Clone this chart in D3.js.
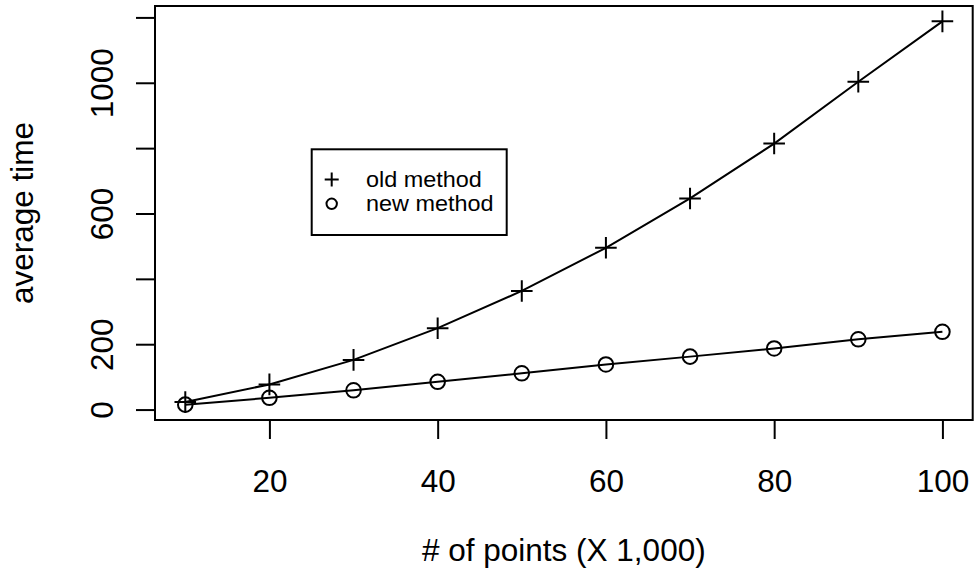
<!DOCTYPE html>
<html>
<head>
<meta charset="utf-8">
<script src="https://cdn.jsdelivr.net/npm/d3@7"></script>
<style>
  html, body { margin: 0; padding: 0; background: #ffffff; }
  svg { display: block; }
  text { font-family: "Liberation Sans", Arial, Helvetica, sans-serif; fill: #000; }
</style>
</head>
<body>
<svg id="chart" width="975" height="579"></svg>
<script>
// Number of points (thousands) and average run time of each method
const sizes = [10, 20, 30, 40, 50, 60, 70, 80, 90, 100];
const oldMethod = [23, 77, 152, 249, 363, 495, 646, 814, 1003, 1188];
const newMethod = [15, 36, 59, 85, 111, 138, 162, 187, 215, 238];

// Axis ticks and the labels that are printed
const xTicks = [20, 40, 60, 80, 100];
const yTicks = [0, 200, 400, 600, 800, 1000, 1200];
const yLabelled = [0, 200, 600, 1000];

const legendLabels = ["old method", "new method"];

const svg = d3.select("#chart");
const plot = { left: 155, right: 972.7, top: 6, bottom: 420 };

// R-style 4% padding around the data range
function padded(vals) {
  const lo = d3.min(vals), hi = d3.max(vals), r = hi - lo;
  return [lo - 0.04 * r, hi + 0.04 * r];
}

const x = d3.scaleLinear().domain(padded(sizes)).range([plot.left, plot.right]);
const y = d3.scaleLinear().domain(padded(oldMethod.concat(newMethod))).range([plot.bottom, plot.top]);

const fontSize = 31.5;
const tickLen = 19;
const lw = 2;

// Box around the plotting region
svg.append("rect")
  .attr("x", plot.left).attr("y", plot.top)
  .attr("width", plot.right - plot.left).attr("height", plot.bottom - plot.top)
  .attr("fill", "none").attr("stroke", "#000").attr("stroke-width", lw);

// Bottom axis
const xAxis = d3.axisBottom(x).tickValues(xTicks).tickSize(tickLen).tickPadding(0).tickFormat(d3.format("d"));
const gx = svg.append("g").attr("transform", `translate(0,${plot.bottom})`).call(xAxis);
gx.select(".domain").attr("d", `M${x(xTicks[0])},0H${x(xTicks[xTicks.length - 1])}`)
  .attr("stroke", "#000").attr("stroke-width", lw);
gx.selectAll(".tick line").attr("stroke", "#000").attr("stroke-width", lw);
gx.selectAll(".tick text")
  .attr("y", 72).attr("dy", null)
  .attr("font-size", fontSize).attr("font-family", "Liberation Sans, Arial, sans-serif")
  .attr("fill", "#000");

// Left axis (labels read upward)
const yAxis = d3.axisLeft(y).tickValues(yTicks).tickSize(tickLen).tickPadding(0)
  .tickFormat(d => yLabelled.includes(d) ? d3.format("d")(d) : "");
const gy = svg.append("g").attr("transform", `translate(${plot.left},0)`).call(yAxis);
gy.select(".domain").attr("d", `M0,${y(yTicks[0])}V${y(yTicks[yTicks.length - 1])}`)
  .attr("stroke", "#000").attr("stroke-width", lw);
gy.selectAll(".tick line").attr("stroke", "#000").attr("stroke-width", lw);
gy.selectAll(".tick text")
  .attr("x", null).attr("dy", null)
  .attr("transform", "translate(-42,0) rotate(-90)")
  .attr("text-anchor", "middle")
  .attr("font-size", fontSize).attr("font-family", "Liberation Sans, Arial, sans-serif")
  .attr("fill", "#000");

// Axis titles
svg.append("text")
  .attr("x", (plot.left + plot.right) / 2).attr("y", 561)
  .attr("text-anchor", "middle").attr("font-size", fontSize)
  .text("# of points (X 1,000)");
svg.append("text")
  .attr("transform", `translate(33,${(plot.top + plot.bottom) / 2}) rotate(-90)`)
  .attr("text-anchor", "middle").attr("font-size", fontSize)
  .text("average time");

// Series: lines through the points, plus and circle symbols
const series = [
  { values: oldMethod, symbol: "plus" },
  { values: newMethod, symbol: "circle" }
];
const line = d3.line().x(d => x(d[0])).y(d => y(d[1]));
const plusHalf = 10.8, circleR = 7.3;

function drawSymbol(g, kind, cx, cy, half, r) {
  if (kind === "plus") {
    g.append("path")
      .attr("d", `M${cx - half},${cy}H${cx + half}M${cx},${cy - half}V${cy + half}`)
      .attr("stroke", "#000").attr("stroke-width", lw).attr("fill", "none");
  } else {
    g.append("circle").attr("cx", cx).attr("cy", cy).attr("r", r)
      .attr("stroke", "#000").attr("stroke-width", lw).attr("fill", "none");
  }
}

series.forEach(s => {
  const pts = sizes.map((v, i) => [v, s.values[i]]);
  svg.append("path").attr("d", line(pts))
    .attr("fill", "none").attr("stroke", "#000").attr("stroke-width", lw);
  const g = svg.append("g");
  pts.forEach(p => drawSymbol(g, s.symbol, x(p[0]), y(p[1]), plusHalf, circleR));
});

// Legend: symbols and labels, text stretched slightly in width only
const legend = { left: 311.7, top: 149.3, right: 506.7, bottom: 235 };
svg.append("rect")
  .attr("x", legend.left).attr("y", legend.top)
  .attr("width", legend.right - legend.left).attr("height", legend.bottom - legend.top)
  .attr("fill", "#fff").attr("stroke", "#000").attr("stroke-width", lw);
const lg = svg.append("g");
legendLabels.forEach((lab, i) => {
  const cy = 179.6 + i * 24.2;
  drawSymbol(lg, series[i].symbol, 331.7, cy, 7, 5.2);
  lg.append("text")
    .attr("transform", `translate(366,${cy + 7.5}) scale(1.09,1)`)
    .attr("font-size", 21.5)
    .text(lab);
});
</script>
</body>
</html>
